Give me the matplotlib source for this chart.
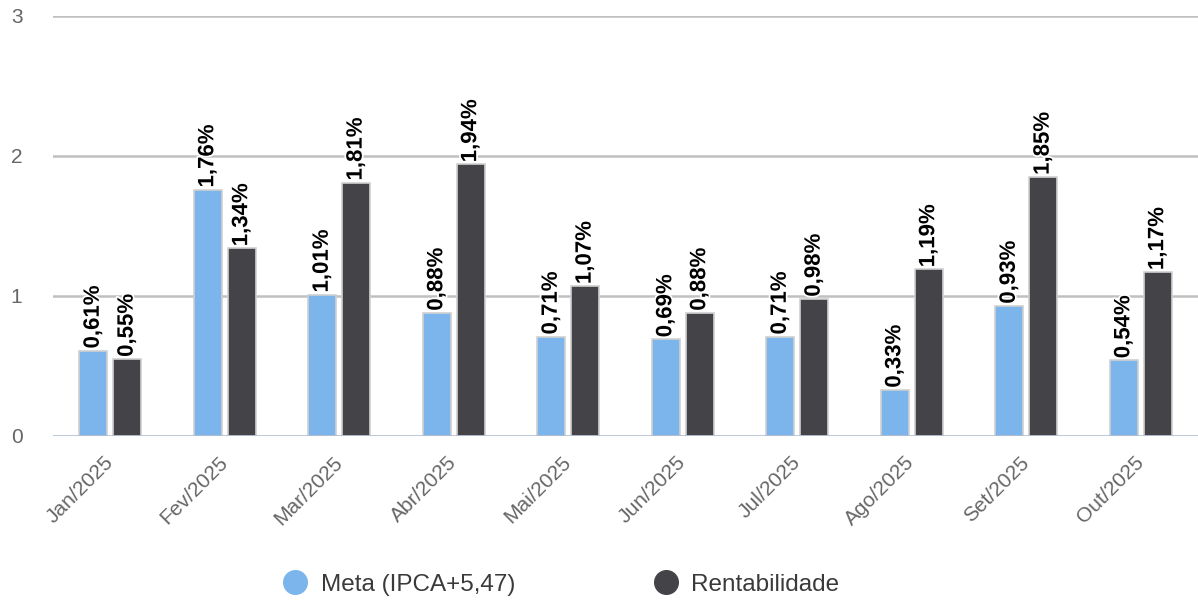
import matplotlib.pyplot as plt
import matplotlib.patheffects as pe
from matplotlib.lines import Line2D
import numpy as np

plt.rcParams['font.family'] = ['Liberation Sans', 'DejaVu Sans']

meses = ['Jan/2025', 'Fev/2025', 'Mar/2025', 'Abr/2025', 'Mai/2025',
         'Jun/2025', 'Jul/2025', 'Ago/2025', 'Set/2025', 'Out/2025']
meta = [0.61, 1.76, 1.01, 0.88, 0.71, 0.69, 0.71, 0.33, 0.93, 0.54]
rentab = [0.55, 1.34, 1.81, 1.94, 1.07, 0.88, 0.98, 1.19, 1.85, 1.17]

cor_meta = '#7cb5ec'
cor_rent = '#434348'

fig = plt.figure(figsize=(11.98, 6.03), dpi=100)
ax = fig.add_axes([0.0442, 0.277, 0.9558, 0.6965])

x = np.arange(len(meses))
w = 0.245
d = 0.148

b1 = ax.bar(x - d, meta, w, color=cor_meta, edgecolor='#d0d0d0', linewidth=1.2, zorder=3)
b2 = ax.bar(x + d, rentab, w, color=cor_rent, edgecolor='#d0d0d0', linewidth=1.2, zorder=3)

# rotulos dos valores
for bars, vals in [(b1, meta), (b2, rentab)]:
    for b, v in zip(bars, vals):
        t = ax.annotate(f'{v:.2f}%'.replace('.', ','),
                        (b.get_x() + b.get_width() / 2, v),
                        xytext=(0, 1.5), textcoords='offset points',
                        ha='center', va='bottom', rotation=90,
                        fontsize=16, fontweight='bold', color='black', zorder=5)
        t.set_path_effects([pe.withStroke(linewidth=2.5, foreground='white')])

ax.set_xlim(-0.5, 9.5)
ax.set_ylim(0, 3)
ax.set_yticks([0, 1, 2, 3])
ax.set_yticklabels(['0', '1', '2', '3'])

for yv in [1, 2, 3]:
    ax.axhline(yv, color='#c0c0c0', linewidth=1.8, zorder=1)
ax.axhline(0, color='#a9b8cf', linewidth=1.8, zorder=4)

for s in ax.spines.values():
    s.set_visible(False)

ax.tick_params(axis='y', length=0, pad=22, labelsize=15, labelcolor='#666666')
ax.tick_params(axis='x', length=0, pad=17)
ax.set_xticks(x)
ax.set_xticklabels(meses, rotation=45, ha='right', va='center',
                   rotation_mode='anchor', fontsize=15, color='#666666')

handles = [Line2D([], [], marker='o', linestyle='', markersize=17, color=cor_meta),
           Line2D([], [], marker='o', linestyle='', markersize=17, color=cor_rent)]
fig.legend(handles, ['Meta (IPCA+5,47)', 'Rentabilidade'], loc='center',
           bbox_to_anchor=(0.4675, 0.03), ncol=2, frameon=False,
           fontsize=17.5, labelcolor='#3a3a3a', columnspacing=5.6,
           handletextpad=0.45, handlelength=1.2)

fig.savefig('out.png', dpi=100)
